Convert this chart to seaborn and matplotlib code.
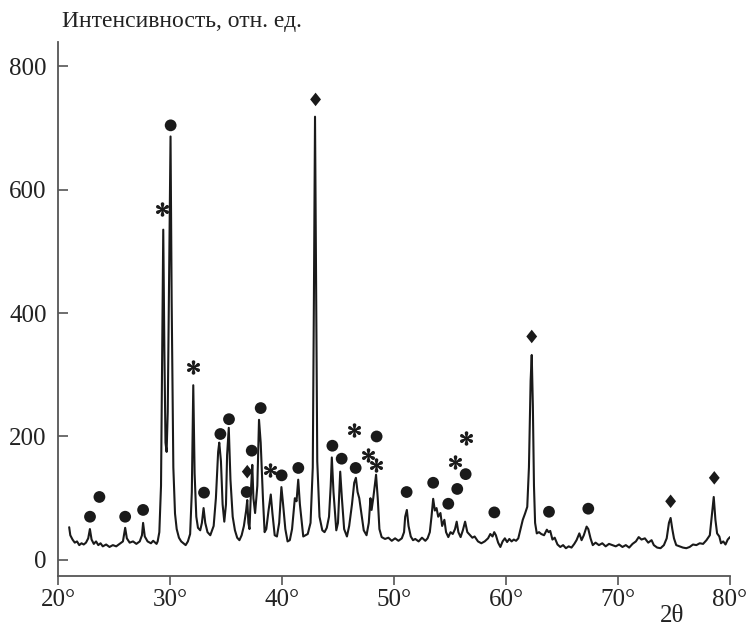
import numpy as np
import pandas as pd
import matplotlib
matplotlib.use("Agg")
import matplotlib.pyplot as plt
import seaborn as sns

# ---- spectrum (2theta, intensity) ----
two_theta = [
    21.0, 21.1, 21.3, 21.5, 21.7, 21.9, 22.1, 22.3, 22.5, 22.7, 22.85, 23.0, 23.2, 23.4, 23.6, 23.8,
    24.0, 24.3, 24.6, 24.9, 25.2, 25.5, 25.8, 26.0, 26.15, 26.4, 26.7, 27.0, 27.3, 27.5, 27.6, 27.75,
    28.0, 28.3, 28.5, 28.8, 28.9, 29.05, 29.2, 29.3, 29.4, 29.5, 29.6, 29.7, 29.8, 29.9, 30.05, 30.15,
    30.3, 30.45, 30.6, 30.8, 31.0, 31.2, 31.4, 31.6, 31.8, 31.95, 32.08, 32.2, 32.35, 32.5, 32.7, 32.85,
    33.0, 33.15, 33.35, 33.6, 33.9, 34.1, 34.3, 34.4, 34.55, 34.7, 34.85, 35.0, 35.1, 35.25, 35.4, 35.6,
    35.8, 36.0, 36.2, 36.4, 36.6, 36.8, 36.9, 37.0, 37.1, 37.25, 37.35, 37.45, 37.6, 37.8, 37.95, 38.1,
    38.3, 38.45, 38.6, 38.8, 39.0, 39.15, 39.35, 39.55, 39.75, 39.95, 40.1, 40.3, 40.5, 40.7, 40.9, 41.15,
    41.3, 41.45, 41.6, 41.9, 42.1, 42.3, 42.55, 42.75, 42.85, 42.95, 43.05, 43.15, 43.35, 43.6, 43.8, 44.0,
    44.2, 44.35, 44.45, 44.6, 44.85, 45.0, 45.2, 45.35, 45.55, 45.8, 46.0, 46.25, 46.45, 46.6, 46.75, 46.9,
    47.05, 47.3, 47.55, 47.75, 47.9, 48.0, 48.15, 48.4, 48.55, 48.7, 48.9, 49.2, 49.5, 49.8, 50.1, 50.4,
    50.7, 50.9, 51.0, 51.15, 51.3, 51.5, 51.7, 51.9, 52.2, 52.5, 52.8, 53.0, 53.2, 53.35, 53.5, 53.65,
    53.8, 53.95, 54.15, 54.3, 54.5, 54.65, 54.85, 55.05, 55.25, 55.45, 55.6, 55.75, 55.95, 56.15, 56.35, 56.55,
    56.8, 57.0, 57.2, 57.5, 57.8, 58.1, 58.4, 58.6, 58.8, 58.95, 59.1, 59.3, 59.5, 59.7, 59.9, 60.1,
    60.3, 60.5, 60.7, 60.9, 61.1, 61.3, 61.5, 61.7, 61.9, 62.05, 62.2, 62.3, 62.4, 62.5, 62.6, 62.75,
    62.95, 63.15, 63.4, 63.65, 63.8, 63.95, 64.15, 64.35, 64.6, 64.85, 65.1, 65.35, 65.6, 65.85, 66.1, 66.3,
    66.55, 66.75, 66.95, 67.2, 67.35, 67.55, 67.75, 68.0, 68.3, 68.6, 68.9, 69.2, 69.5, 69.8, 70.1, 70.4,
    70.7, 71.0, 71.3, 71.6, 71.85, 72.1, 72.4, 72.7, 73.0, 73.2, 73.5, 73.8, 74.1, 74.35, 74.55, 74.7,
    74.85, 75.0, 75.2, 75.5, 75.8, 76.1, 76.4, 76.7, 77.0, 77.3, 77.6, 77.9, 78.2, 78.4, 78.55, 78.7,
    78.85, 79.05, 79.2, 79.4, 79.6, 79.8, 80.0,
]
intensity = [
    53, 40, 33, 28, 30, 24, 27, 25, 28, 35, 50, 33, 26, 30, 24, 27,
    22, 25, 21, 24, 22, 26, 30, 52, 35, 28, 30, 26, 30, 40, 60, 38,
    30, 27, 31, 26, 30, 45, 120, 330, 535, 340, 190, 175, 240, 420, 686, 420,
    150, 75, 50, 36, 30, 27, 24, 30, 42, 110, 283, 140, 70, 52, 48, 60,
    84, 60, 45, 40, 55, 100, 175, 190, 160, 90, 62, 90, 170, 214, 130, 70,
    48, 36, 32, 40, 55, 80, 97, 60, 50, 120, 154, 100, 76, 120, 227, 190,
    100, 45, 50, 80, 106, 75, 40, 38, 60, 118, 90, 50, 30, 32, 50, 100,
    95, 130, 90, 38, 40, 42, 60, 150, 420, 718, 430, 160, 70, 48, 45, 52,
    70, 120, 166, 110, 48, 60, 143, 100, 50, 38, 55, 90, 125, 133, 110, 100,
    80, 48, 40, 60, 100, 81, 100, 138, 100, 50, 37, 34, 36, 31, 35, 31,
    35, 45, 70, 81, 55, 38, 32, 34, 30, 36, 31, 35, 45, 70, 99, 80,
    84, 70, 76, 55, 65, 45, 37, 45, 42, 50, 62, 45, 37, 48, 62, 45,
    40, 36, 38, 30, 27, 30, 35, 42, 38, 45, 40, 28, 21, 30, 35, 29,
    34, 30, 33, 31, 35, 50, 65, 75, 86, 150, 290, 332, 250, 120, 60, 43,
    45, 42, 40, 49, 45, 47, 33, 36, 25, 21, 24, 19, 22, 20, 26, 32,
    43, 32, 40, 54, 50, 35, 24, 28, 24, 27, 22, 26, 24, 22, 25, 21,
    24, 20, 26, 30, 37, 33, 35, 28, 32, 24, 20, 19, 24, 35, 60, 68,
    50, 35, 24, 22, 20, 19, 21, 25, 24, 27, 26, 32, 40, 75, 102, 65,
    43, 38, 27, 30, 25, 33, 37,
]

# ---- phase markers ----
circle_x = [22.86, 23.7, 26.0, 27.6, 30.06, 33.04, 34.5, 35.27, 36.85, 37.3, 38.1, 39.97,
            41.46, 44.5, 45.33, 46.58, 48.45, 51.13, 53.5, 54.85, 55.65, 56.4, 58.96, 63.84, 67.35]
circle_y = [70, 102, 70, 81, 704, 109, 204, 228, 110, 177, 246, 137,
            149, 185, 164, 149, 200, 110, 125, 91, 115, 139, 77, 78, 83]
star_x = [29.26, 32.08, 38.9, 46.4, 47.7, 48.37, 55.45, 56.4]
star_y = [568, 312, 146, 211, 170, 153, 159, 197]
diamond_x = [36.9, 43.0, 62.3, 74.7, 78.6]
diamond_y = [143, 746, 362, 95, 133]

x_ticks = [20, 30, 40, 50, 60, 70, 80]
x_ticklabels = ["20°", "30°", "40°", "50°", "60°", "70°", "80°"]
y_ticks = [0, 200, 400, 600, 800]
y_label = "Интенсивность, отн. ед."
x_label = "2θ"

sns.set_style("white")
plt.rcParams["font.family"] = ["Liberation Serif", "DejaVu Serif"]
plt.rcParams["mathtext.fontset"] = "stix"

fig = plt.figure(figsize=(7.5, 6.26), dpi=100)
ax = fig.add_axes([0.0773, 0.0799, 0.896, 0.853])

spec = pd.DataFrame({"tt": two_theta, "I": intensity})
sns.lineplot(data=spec, x="tt", y="I", ax=ax, color="#1a1a1a", linewidth=1.5,
             sort=False, estimator=None)

diamond_marker = [(0, 1), (0.8, 0), (0, -1), (-0.8, 0), (0, 1)]
sns.scatterplot(x=circle_x, y=circle_y, ax=ax, marker="o", s=72, color="#1a1a1a",
                edgecolor="none", linewidth=0)
sns.scatterplot(x=star_x, y=star_y, ax=ax, marker="$*$", s=90, color="#1a1a1a",
                edgecolor="#1a1a1a", linewidth=0.9)
sns.scatterplot(x=diamond_x, y=diamond_y, ax=ax, marker=diamond_marker, s=95,
                color="#1a1a1a", edgecolor="none", linewidth=0)

ax.set_xlim(20, 80)
ax.set_ylim(-26, 839)
ax.set_xticks(x_ticks)
ax.set_xticklabels(x_ticklabels)
ax.set_yticks(y_ticks)
ax.set_xlabel("")
ax.set_ylabel("")

for s in ["top", "right"]:
    ax.spines[s].set_visible(False)
for s in ["left", "bottom"]:
    ax.spines[s].set_color("#555555")
    ax.spines[s].set_linewidth(1.3)

ax.tick_params(axis="x", direction="out", length=6.5, width=1.2, color="#555555",
               labelsize=18, pad=3, bottom=True)
ax.tick_params(axis="y", direction="in", length=7, width=1.2, color="#555555",
               labelsize=18, pad=8, left=True)
for lab in ax.get_xticklabels() + ax.get_yticklabels():
    lab.set_color("#222222")

fig.text(62 / 750, 1 - 22 / 626, y_label, fontsize=17, ha="left", va="center",
         color="#222222")
fig.text(672 / 750, 1 - 616 / 626, x_label, fontsize=18, ha="center", va="center",
         color="#222222")

fig.savefig("out.png", dpi=100)
